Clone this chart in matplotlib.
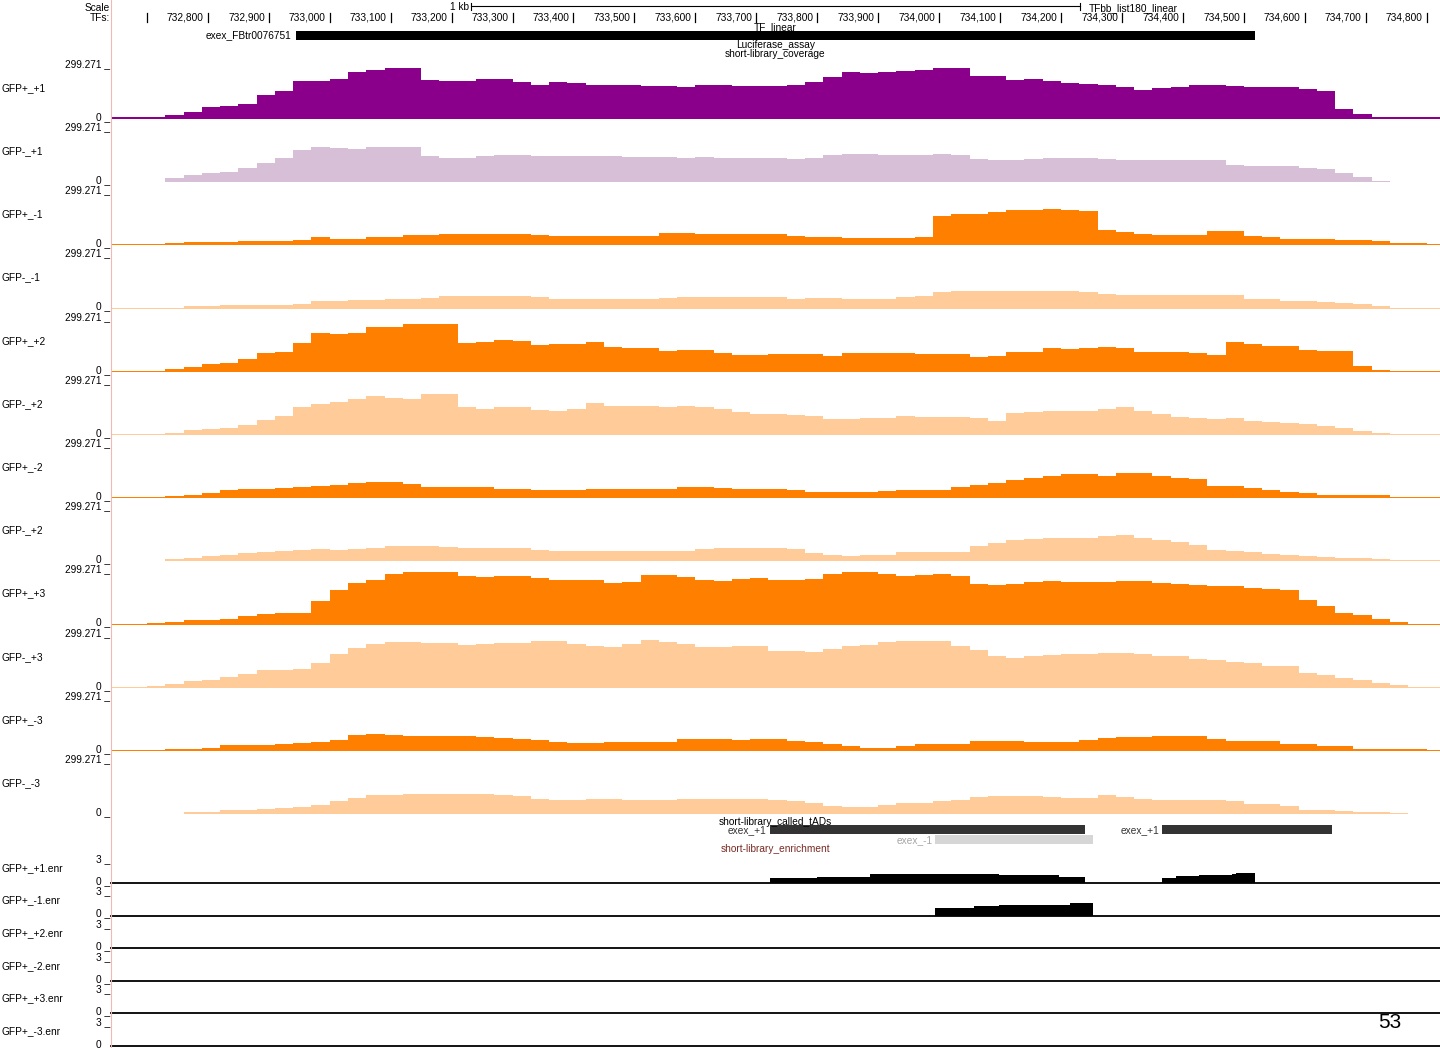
import numpy as np
import matplotlib
matplotlib.use("Agg")
import matplotlib.pyplot as plt
import matplotlib.transforms as mtransforms
from matplotlib.lines import Line2D

plt.rcParams["font.family"] = ["Liberation Sans", "DejaVu Sans"]

W, H = 1440, 1048
VMAX = 299.271
ENR_MAX = 3

# browser window (bp) and 30 bp coverage bins
view_start, view_end = 732641, 734822
bin_start, bin_size = 732640, 30

track_names = ["GFP+_+1", "GFP-_+1", "GFP+_-1", "GFP-_-1", "GFP+_+2", "GFP-_+2",
               "GFP+_-2", "GFP-_+2", "GFP+_+3", "GFP-_+3", "GFP+_-3", "GFP-_-3"]
track_colors = ["#8b008b", "#d8bfd8", "#ff8000", "#ffcc99", "#ff8000", "#ffcc99",
                "#ff8000", "#ffcc99", "#ff8000", "#ffcc99", "#ff8000", "#ffcc99"]

# coverage per 30 bp bin, in percent of the 299.271 view limit
cov_p1 = [3, 3, 3, 8, 14, 22, 24, 29, 45, 52, 72, 71, 75, 88, 92, 97, 96, 74, 72, 72,
          75, 76, 70, 64, 69, 68, 64, 65, 64, 62, 62, 61, 65, 65, 62, 62, 63, 65, 70, 80,
          88, 86, 89, 91, 92, 97, 96, 82, 81, 74, 75, 72, 67, 66, 64, 61, 54, 58, 60, 64,
          64, 63, 61, 61, 61, 56, 52, 18, 10, 4, 4, 4, 4]
cov_m1 = [1, 1, 1, 8, 14, 17, 20, 27, 36, 45, 60, 66, 64, 62, 67, 67, 67, 50, 46, 46,
          50, 52, 52, 50, 49, 49, 49, 49, 48, 47, 47, 46, 47, 46, 46, 45, 45, 44, 46, 52,
          54, 54, 52, 52, 52, 53, 52, 44, 42, 42, 43, 45, 45, 45, 44, 42, 41, 41, 41, 41,
          41, 33, 30, 30, 30, 27, 25, 17, 9, 2, 1, 1, 1]
cov_p_m1 = [3, 3, 3, 4, 6, 6, 6, 9, 9, 9, 10, 16, 13, 12, 16, 16, 19, 19, 21, 21,
            21, 21, 21, 19, 18, 17, 17, 17, 17, 18, 23, 23, 22, 22, 22, 22, 22, 17, 16, 15,
            14, 14, 14, 14, 16, 55, 59, 60, 63, 66, 66, 68, 67, 65, 30, 26, 22, 19, 19, 20,
            27, 27, 18, 16, 13, 13, 13, 11, 10, 8, 5, 5, 3]
cov_m_m1 = [1, 1, 1, 2, 4, 5, 7, 7, 7, 7, 9, 14, 15, 17, 17, 18, 19, 20, 24, 24,
            24, 24, 23, 21, 19, 18, 18, 18, 18, 18, 20, 21, 21, 21, 22, 22, 22, 19, 20, 20,
            19, 19, 19, 21, 24, 31, 33, 33, 34, 33, 33, 33, 34, 31, 27, 26, 25, 25, 25, 25,
            26, 25, 19, 19, 14, 14, 12, 10, 8, 4, 1, 1, 1]
cov_p2 = [1, 1, 1, 5, 9, 15, 16, 24, 36, 38, 55, 74, 72, 74, 85, 84, 90, 91, 91, 54,
          57, 60, 59, 51, 52, 52, 57, 47, 44, 44, 40, 42, 42, 35, 32, 31, 34, 34, 33, 30,
          35, 36, 36, 35, 33, 33, 33, 27, 30, 38, 38, 44, 43, 44, 47, 44, 38, 38, 37, 36,
          32, 57, 52, 48, 48, 42, 40, 39, 10, 4, 1, 1, 1]
cov_m2 = [1, 1, 1, 4, 9, 11, 13, 18, 28, 35, 52, 58, 62, 68, 74, 70, 68, 77, 77, 52,
          50, 53, 53, 48, 45, 50, 60, 54, 54, 55, 52, 54, 52, 49, 44, 40, 39, 38, 35, 30,
          30, 33, 33, 35, 34, 34, 34, 32, 27, 42, 44, 45, 46, 46, 49, 52, 46, 40, 34, 33,
          30, 33, 27, 25, 22, 20, 17, 13, 7, 4, 1, 1, 1]
cov_p_m2 = [2, 2, 2, 4, 6, 9, 15, 17, 18, 20, 22, 23, 25, 29, 31, 30, 26, 22, 22, 21,
            21, 18, 17, 16, 15, 16, 17, 17, 17, 17, 17, 21, 21, 19, 17, 17, 17, 16, 12, 12,
            12, 12, 14, 15, 16, 16, 21, 25, 29, 35, 38, 41, 45, 45, 42, 48, 48, 42, 38, 36,
            23, 23, 20, 16, 11, 9, 6, 6, 6, 6, 2, 2, 2]
cov_m2_b = [1, 1, 1, 5, 7, 10, 13, 15, 17, 19, 22, 23, 22, 24, 26, 29, 29, 29, 27, 25,
            25, 25, 25, 22, 19, 19, 19, 19, 19, 19, 19, 19, 24, 26, 26, 26, 26, 24, 16, 13,
            11, 13, 13, 18, 18, 18, 18, 30, 35, 40, 42, 44, 45, 45, 48, 50, 45, 40, 36, 31,
            22, 19, 17, 14, 12, 10, 9, 7, 7, 5, 2, 2, 2]
cov_p3 = [1, 1, 3, 4, 8, 8, 10, 16, 20, 22, 22, 45, 66, 78, 84, 96, 100, 100, 100, 92,
          89, 91, 91, 88, 84, 84, 84, 79, 80, 94, 94, 89, 84, 82, 86, 87, 85, 85, 86, 96,
          99, 99, 96, 92, 94, 95, 92, 76, 75, 77, 80, 82, 80, 80, 80, 82, 82, 78, 77, 75,
          73, 72, 69, 68, 65, 47, 36, 22, 18, 10, 4, 1, 1]
cov_m3 = [1, 1, 4, 8, 13, 14, 21, 26, 33, 33, 36, 47, 64, 75, 83, 86, 86, 85, 85, 81,
          82, 84, 85, 88, 89, 82, 79, 77, 82, 90, 87, 83, 77, 77, 78, 78, 70, 70, 67, 74,
          78, 81, 86, 89, 89, 88, 78, 71, 60, 56, 60, 62, 64, 64, 66, 66, 63, 60, 60, 55,
          52, 49, 47, 42, 41, 27, 25, 18, 14, 10, 6, 1, 1]
cov_p_m3 = [1, 1, 1, 3, 4, 6, 11, 11, 11, 14, 15, 17, 21, 30, 33, 31, 28, 29, 29, 29,
            26, 25, 22, 20, 17, 16, 16, 17, 17, 17, 17, 22, 22, 22, 21, 23, 23, 19, 17, 14,
            9, 6, 6, 9, 14, 14, 14, 18, 18, 18, 17, 17, 17, 20, 25, 26, 26, 28, 29, 28,
            23, 18, 18, 18, 14, 13, 9, 9, 4, 3, 3, 3, 2]
cov_m_m3 = [1, 1, 1, 1, 4, 5, 7, 7, 10, 11, 13, 18, 25, 31, 36, 37, 38, 39, 39, 39,
            39, 36, 34, 29, 27, 26, 29, 28, 26, 26, 27, 29, 29, 29, 29, 29, 27, 24, 21, 16,
            14, 14, 18, 22, 22, 24, 26, 32, 34, 35, 34, 33, 30, 30, 36, 32, 28, 27, 26, 26,
            26, 25, 20, 19, 15, 8, 7, 6, 5, 4, 3, 1, 1]

coverage = [cov_p1, cov_m1, cov_p_m1, cov_m_m1, cov_p2, cov_m2,
            cov_p_m2, cov_m2_b, cov_p3, cov_m3, cov_p_m3, cov_m_m3]

gene_name = "exex_FBtr0076751"
gene_start, gene_end = 732944, 734519

tad_names = ["exex_+1", "exex_-1", "exex_+1"]
tad_starts = [733722, 733994, 734366]
tad_ends = [734240, 734253, 734645]
tad_rows = [0, 1, 0]

enr_names = ["GFP+_+1.enr", "GFP+_-1.enr", "GFP+_+2.enr", "GFP+_-2.enr", "GFP+_+3.enr", "GFP+_-3.enr"]
enr1_edges = [733722, 733800, 733886, 733960, 734099, 734197, 734240,
              734366, 734389, 734427, 734481, 734488, 734519]
enr1_vals = [0.75, 0.85, 1.2, 1.25, 1.1, 0.85, 0, 0.72, 0.95, 1.1, 1.2, 1.4]
enr2_edges = [733994, 734058, 734099, 734165, 734214, 734253]
enr2_vals = [1.1, 1.25, 1.4, 1.45, 1.7]
enrichment = {0: (enr1_edges, enr1_vals), 1: (enr2_edges, enr2_vals)}

ruler_ticks = list(range(732700, 734900, 100))


def fx(x):
    return x / W


def fy(y):
    return 1 - y / H


def px_axes(x0, y0, x1, y1):
    return fig.add_axes([fx(x0), fy(y1), fx(x1) - fx(x0), (y1 - y0) / H])


fig = plt.figure(figsize=(W / 100, H / 100), dpi=100)
FS = 7.3
X0, X1 = 111, 1440
XMID = (X0 + X1) / 2

# header: scale bar, ruler, gene
hdr = px_axes(X0, 0, X1, 62)
hdr.set_xlim(view_start, view_end)
hdr.set_ylim(62, 0)
hdr.axis("off")
fig.text(fx(110), fy(8), "Scale", ha="right", va="center", fontsize=FS)
fig.text(fx(110), fy(18), "TFs:", ha="right", va="center", fontsize=FS)

mid = (view_start + view_end) / 2
sb0, sb1 = mid - 500, mid + 500
hdr.plot([sb0, sb1], [6, 6], color="black", lw=0.8)
hdr.plot([sb0, sb0], [3, 10], color="black", lw=0.8)
hdr.plot([sb1, sb1], [3, 10], color="black", lw=0.8)
left_off = mtransforms.offset_copy(hdr.transData, fig=fig, x=-2, y=0, units="dots")
right_off = mtransforms.offset_copy(hdr.transData, fig=fig, x=9, y=0, units="dots")
hdr.text(sb0, 7, "1 kb", ha="right", va="center", fontsize=FS, transform=left_off)
hdr.text(sb1, 8, "TFbb_list180_linear", ha="left", va="center", fontsize=FS, transform=right_off)

tick_off = mtransforms.offset_copy(hdr.transData, fig=fig, x=-4, y=0, units="dots")
for t in ruler_ticks:
    hdr.plot([t, t], [13, 22], color="black", lw=0.9)
    if t > view_start + 100:
        hdr.text(t, 18, f"{t:,}", ha="right", va="center", fontsize=FS, transform=tick_off)

hdr.fill_between([gene_start, gene_end], 31, 40, color="black", lw=0)
gene_off = mtransforms.offset_copy(hdr.transData, fig=fig, x=-4, y=0, units="dots")
hdr.text(gene_start, 35.5, gene_name, ha="right", va="center", fontsize=FS, transform=gene_off)
fig.text(fx(XMID), fy(27), "TF_linear", ha="center", va="center", fontsize=FS, zorder=0)
fig.text(fx(XMID), fy(45), "Luciferase_assay", ha="center", va="center", fontsize=FS)
fig.text(fx(XMID), fy(54), "short-library_coverage", ha="center", va="center", fontsize=FS)

# coverage tracks
edges = bin_start + bin_size * np.arange(len(cov_p1) + 1)
for k, (name, col, pct) in enumerate(zip(track_names, track_colors, coverage)):
    y_zero = 119 + 63.2 * k
    y_top = y_zero - 53
    ax = px_axes(X0, y_top, X1, y_zero)
    ax.set_xlim(view_start, view_end)
    ax.set_ylim(0, VMAX)
    ax.axis("off")
    ax.stairs(np.array(pct) * VMAX / 100, edges, fill=True, color=col, lw=0)
    fig.text(fx(2), fy(y_zero - 31), name, ha="left", va="center", fontsize=FS)
    fig.text(fx(110), fy(y_top + 1), f"{VMAX} _", ha="right", va="baseline", fontsize=FS)
    fig.text(fx(110), fy(y_zero + 1), "0 _", ha="right", va="baseline", fontsize=FS)

# called tADs
tad = px_axes(X0, 815, X1, 856)
tad.set_xlim(view_start, view_end)
tad.set_ylim(856, 815)
tad.axis("off")
fig.text(fx(XMID), fy(822), "short-library_called_tADs", ha="center", va="center", fontsize=FS)
tad_off = mtransforms.offset_copy(tad.transData, fig=fig, x=-3, y=0, units="dots")
for nm, s, e, r in zip(tad_names, tad_starts, tad_ends, tad_rows):
    top = 825 + 10 * r
    bar_col = "#333333" if r == 0 else "#d6d6d6"
    txt_col = "#333333" if r == 0 else "#a6a6a6"
    tad.fill_between([s, e], top, top + 9, color=bar_col, lw=0)
    tad.text(s, top + 5, nm, ha="right", va="center", fontsize=FS, color=txt_col, transform=tad_off)
fig.text(fx(XMID), fy(849), "short-library_enrichment", ha="center", va="center",
         fontsize=FS, color="#7a2a24")

# enrichment tracks
for k, name in enumerate(enr_names):
    y_zero = 883 + 32.6 * k
    y_top = y_zero - 22
    ax = px_axes(X0, y_top, X1, y_zero)
    ax.set_xlim(view_start, view_end)
    ax.set_ylim(0, ENR_MAX)
    ax.axis("off")
    if k in enrichment:
        e_edges, e_vals = enrichment[k]
        ax.stairs(e_vals, e_edges, fill=True, color="black", lw=0)
    ax.axhline(0, color="black", lw=1.3, clip_on=False)
    fig.text(fx(2), fy(y_zero - 15), name, ha="left", va="center", fontsize=FS)
    fig.text(fx(110), fy(y_top + 1), f"{ENR_MAX} _", ha="right", va="baseline", fontsize=FS)
    fig.text(fx(110), fy(y_zero + 1), "0 _", ha="right", va="baseline", fontsize=FS)

fig.add_artist(Line2D([fx(X0), fx(X0)], [0, 1], color="#f2b8b8", lw=0.8))
fig.text(fx(1390), fy(1022), "53", ha="center", va="center", fontsize=15)

fig.savefig("out.png", dpi=100)
